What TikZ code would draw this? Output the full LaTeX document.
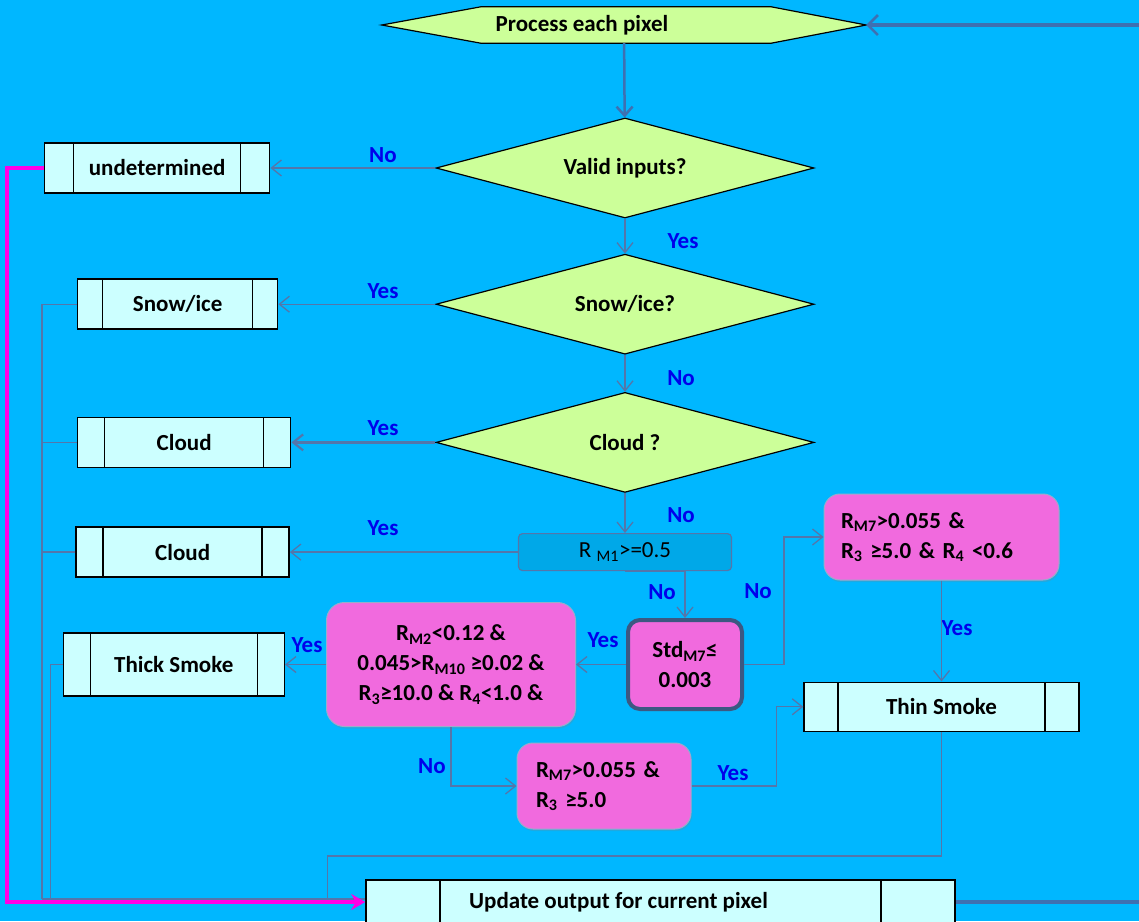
\documentclass[tikz,border=0pt]{standalone}
\usepackage{fontspec}
\setmainfont{Carlito}
\usetikzlibrary{positioning, shapes.geometric, arrows.meta, backgrounds, calc, shadows}
\definecolor{skyback}{RGB}{0,183,255}
\definecolor{decgreen}{RGB}{204,255,153}
\definecolor{boxcyan}{RGB}{204,255,255}
\definecolor{condpink}{RGB}{241,106,222}
\definecolor{rmfill}{RGB}{0,168,232}
\definecolor{linkblue}{RGB}{84,118,170}
\definecolor{flowblue}{RGB}{62,112,178}
\definecolor{stdframe}{RGB}{60,88,130}
\definecolor{labblue}{RGB}{0,0,235}
\definecolor{loopmag}{RGB}{255,0,230}

\begin{document}
\begin{tikzpicture}[x=1pt,y=-1pt,
  every node/.style={font=\fontsize{23}{30}\selectfont\bfseries,inner sep=0pt,align=center},
  dec/.style={diamond,draw,fill=decgreen,line width=1.2pt,aspect=3.78,minimum width=378pt,minimum height=100pt},
  outbox/.style={rectangle,draw,fill=boxcyan,line width=1.5pt,
    path picture={\draw[line width=1.5pt]([xshift=#1]path picture bounding box.north west)--([xshift=#1]path picture bounding box.south west)
      ([xshift=-#1]path picture bounding box.north east)--([xshift=-#1]path picture bounding box.south east);}},
  cond/.style={rectangle,rounded corners=16pt,draw=linkblue!60,fill=condpink,line width=1pt,
    drop shadow={opacity=0.25,shadow xshift=1pt,shadow yshift=-2pt}},
  lab/.style={text=labblue},
  con/.style={draw=linkblue,line width=1.3pt,-{Straight Barb[length=10pt,width=16pt]}},
  link/.style={draw=linkblue,line width=1.3pt},
  trunk/.style={draw=flowblue,line width=3.5pt}]
  \useasboundingbox (0,0) rectangle (1139,921);
  \node(proc)[minimum width=484pt,minimum height=36pt] at (624,25) {\hspace*{-84pt}Process each pixel};
  \node(valid)[dec] at (625,168) {Valid inputs?};
  \node(snow)[dec,below=35pt of valid] {Snow/ice?};
  \node(cloud)[dec,below=37pt of snow] {Cloud ?};
  \node(rmone)[rectangle,draw=linkblue,fill=rmfill,line width=1.2pt,rounded corners=4pt,minimum width=213pt,minimum height=37pt,
    font=\fontsize{23}{30}\selectfont\mdseries,below=40pt of cloud] {R \textsubscript{M1}>=0.5};
%
  \node(undet)[outbox=29pt,minimum width=225pt,minimum height=50pt,left=165pt of valid] {undetermined};
  \node(snowbox)[outbox=25pt,minimum width=200pt,minimum height=50pt,left=157pt of snow] {Snow/ice};
  \node(cloudA)[outbox=27pt,minimum width=213pt,minimum height=50pt,left=144pt of cloud] {Cloud};
  \node(cloudB)[outbox=27pt,minimum width=213pt,minimum height=50pt,left=228pt of rmone] {Cloud};
%
  \node(stdbox)[cond,draw=stdframe,line width=4pt,rounded corners=12pt,minimum width=114pt,minimum height=89pt] at (685,664.5)
    {Std\textsubscript{M7}≤\\0.003};
  \node(bigcond)[cond,rounded corners=18pt,minimum width=249pt,minimum height=124pt,left=50pt of stdbox]
    {R\textsubscript{M2}<0.12 \&\\0.045>R\textsubscript{M10} ≥0.02 \&\\R\textsubscript{3}≥10.0 \& R\textsubscript{4}<1.0 \&};
  \node(thick)[outbox=27pt,minimum width=221pt,minimum height=63pt,left=41pt of bigcond] {Thick Smoke};
  \node(topcond)[cond,align=left,text width=201pt,inner xsep=17pt,minimum height=86pt] at (941.5,537)
    {R\textsubscript{M7}>0.055 \&\\R\textsubscript{3} ≥5.0 \& R\textsubscript{4} <0.6};
  \node(botcond)[cond,align=left,text width=136pt,inner xsep=19pt,minimum height=86pt] at (604,786)
    {R\textsubscript{M7}>0.055 \&\\R\textsubscript{3} ≥5.0};
  \node(thin)[outbox=34pt,minimum width=275pt,minimum height=49pt,below=101pt of topcond] {Thin Smoke};
  \node(update)[outbox=74pt,minimum width=589pt,minimum height=44pt] at (660.5,902) {\hspace*{-84pt}Update output for current pixel};
%
  \coordinate(feed) at (1139,25);
  \coordinate(exit) at (1139,902);
  \coordinate(lbus) at (42,899);
%
  \node(l1)[lab] at (383,155) {No};
  \node(l2)[lab] at (683,241) {Yes};
  \node(l3)[lab] at (383,291) {Yes};
  \node(l4)[lab] at (681,378) {No};
  \node(l5)[lab] at (383,428) {Yes};
  \node(l6)[lab] at (681,515) {No};
  \node(l7)[lab] at (383,528) {Yes};
  \node(l8)[lab] at (662,592) {No};
  \node(l9)[lab] at (603,640) {Yes};
  \node(l10)[lab] at (758,591) {No};
  \node(l11)[lab] at (957,628) {Yes};
  \node(l12)[lab] at (307,645) {Yes};
  \node(l13)[lab] at (432,766) {No};
  \node(l14)[lab] at (733,773) {Yes};
%
  \begin{scope}[on background layer]
    \fill[skyback] (0,0) rectangle (1139,921);
    \filldraw[fill=decgreen,line width=1.2pt] (proc.west) -- ($(proc.north west)+(99,0)$) -- ($(proc.north east)+(-95,0)$)
      -- (proc.east) -- ($(proc.south east)+(-95,0)$) -- ($(proc.south west)+(99,0)$) -- cycle;
  \end{scope}
%
\draw[trunk,-{Straight Barb[length=10pt,width=20pt,line width=2.5pt]}](feed)--(proc.east);
\draw[draw=flowblue,line width=2.5pt,-{Straight Barb[length=9pt,width=16pt]}](proc)--(valid);
\draw[con](valid)--(snow);
\draw[con](snow)--(cloud);
\draw[con](cloud)--(rmone);
\draw[con](valid)--(undet);
\draw[con](snow)--(snowbox);
\draw[con,line width=2.2pt](cloud)--(cloudA);
\draw[con](rmone)--(cloudB);
\draw[con](rmone.south)-|(stdbox.north);
\draw[con](stdbox)--(bigcond);
\draw[con](stdbox.east)--++(40,0)|-(topcond.west);
\draw[con](topcond)--(thin);
\draw[con](bigcond.south)|-(botcond.west);
\draw[con](botcond.east)--++(85,0)|-(thin.west);
\draw[con](bigcond)--(thick);
%
\draw[link](thin.south)--++(0,124)-|([xshift=-38pt]update.west);
\draw[link](snowbox.west)-|(lbus);
\draw[link](cloudA.west)--(cloudA.west-|lbus);
\draw[link](cloudB.west)--(cloudB.west-|lbus);
\draw[link](thick.west)--++(-12,0)|-(lbus);
\draw[link](lbus)--(update.west|-lbus);
\draw[draw=loopmag,line width=4pt,-{Stealth[length=14pt,width=16pt]}](undet.west)--++(-37,0)|-(update.west);
\draw[trunk](update.east)--(exit);
\end{tikzpicture}
\end{document}
